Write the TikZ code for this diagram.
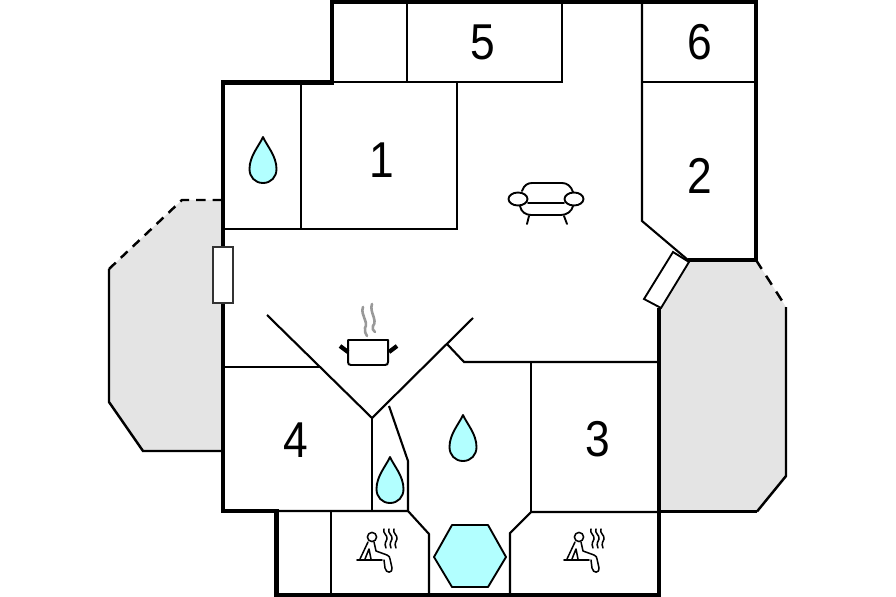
\documentclass[tikz,border=0pt]{standalone}
\usepackage{fontspec}
\setmainfont{Liberation Sans}
\newfontfamily\numberfont[FakeStretch=0.88]{Liberation Sans}
\definecolor{terrace}{HTML}{E4E4E4}
\definecolor{water}{HTML}{B2FFFF}
\definecolor{steam}{HTML}{999999}
\tikzset{
  wall/.style={line width=3.9pt, line join=miter},
  inner wall/.style={line width=1.8pt},
  terrace edge/.style={line width=2.1pt},
  icon/.style={line width=1.6pt, line cap=round, line join=round},
  thin icon/.style={line width=1.3pt, line cap=round, line join=round},
  number/.style={font=\numberfont\fontsize{43}{43}\selectfont, inner sep=0pt},
  pics/drop/.style={code={
    \draw[icon, fill=water] (0,-23) .. controls (-4,-14) and (-13.5,-4) .. (-13.5,9)
      .. controls (-13.5,17) and (-8,23) .. (0,23)
      .. controls (8,23) and (13.5,17) .. (13.5,9)
      .. controls (13.5,-4) and (4,-14) .. (0,-23) -- cycle;
  }},
  pics/bather/.style={code={
    \draw[thin icon] (0,0) circle [radius=4.6];
    \draw[thin icon] (-4,5) -- (-12,22);
    \draw[thin icon] (2,5) -- (4,14) -- (15,18) .. controls (17,19) and (18,20) .. (18,22) -- (20,31)
      .. controls (21,36) and (14,37) .. (13,31) -- (12,23);
    \draw[thin icon] (-3,12) -- (-7,22) (-3,12) -- (-1,22);
    \draw[thin icon] (-15,23) -- (10,23);
    \foreach \sx in {12,17,22} {
      \draw[thin icon] (\sx,-8) .. controls (\sx-2,-4) and (\sx+4,-2) .. (\sx+3,2)
        .. controls (\sx+2,5) and (\sx,6) .. (\sx+2,11);
    }
  }}
}

\begin{document}
\begin{tikzpicture}[x=0.03cm, y=-0.03cm]
    \useasboundingbox (0,0) rectangle (896,597);

    % terraces
    \fill[terrace] (222,200) -- (182,200) -- (109,269) -- (109,402) -- (143,451) -- (222,451) -- cycle;
    \fill[terrace] (688,260) -- (756,260) -- (786,307) -- (786,476) -- (757,512) -- (660,512) -- (660,308) -- cycle;
    \draw[terrace edge, dash pattern=on 8pt off 6pt] (222,200) -- (182,200) -- (109,269);
    \draw[terrace edge] (109,269) -- (109,402) -- (143,451) -- (222,451);
    \draw[terrace edge, dash pattern=on 9pt off 7pt] (756,260) -- (786,307);
    \draw[terrace edge] (786,307) -- (786,476) -- (757,511.5);
    \draw[line width=2.7pt] (757,511.5) -- (659,511.5);

    % outer walls
    \draw[wall] (659,308) -- (659,595) -- (276.5,595) -- (276.5,511) -- (223,511) -- (223,82.5) -- (332,82.5)
      -- (332,2) -- (756,2) -- (756,260) -- (688,260);

    % inner walls
    \draw[inner wall] (301,83) -- (301,229);
    \draw[inner wall] (223,229) -- (457,229) -- (457,83);
    \draw[inner wall] (407,3) -- (407,82);
    \draw[inner wall] (333,82) -- (562,82) -- (562,3);
    \draw[inner wall] (642,3) -- (642,221) -- (688,260);
    \draw[inner wall] (642,82) -- (756,82);
    \draw[inner wall] (267,315) -- (372,418) -- (473,318);
    \draw[inner wall] (223,367) -- (320,367);
    \draw[inner wall] (447,344) -- (464,362) -- (659,362);
    \draw[inner wall] (531,362) -- (531,512);
    \draw[inner wall] (372,418) -- (372,511);
    \draw[inner wall] (389,406) -- (408,461) -- (408,511);
    \draw[inner wall] (277,511) -- (408,511) -- (429,534) -- (429,595);
    \draw[inner wall] (510,595) -- (510,533) -- (531,512) -- (659,512);
    \draw[inner wall] (331,511) -- (331,595);

    % doors
    \draw[line width=1.6pt, draw=black!80, fill=white] (213,247) rectangle (233,303);
    \draw[line width=1.6pt, fill=white] (673,252) -- (689,262) -- (661,308) -- (644,299) -- cycle;

    % rooms
    \node at (382,160) (room1) [number] {1};
    \node at (700,176) (room2) [number] {2};
    \node at (598,439) (room3) [number] {3};
    \node at (296,440) (room4) [number] {4};
    \node at (483,42) (room5) [number] {5};
    \node at (700,42) (room6) [number] {6};

    % water
    \pic at (263,160) {drop};
    \pic at (463,438) {drop};
    \pic at (390,480) {drop};
    \draw[icon, fill=water] (434,557) -- (452,525) -- (488,525) -- (506,557) -- (488,587) -- (452,587) -- cycle;

    % sauna
    \pic at (372,537) {bather};
    \pic at (579,537) {bather};

    % pot
    \draw[line width=1.7pt, line join=round] (348,340) -- (388,340) -- (388,362)
      .. controls (388,364) and (387,365) .. (385,365) -- (351,365) .. controls (349,365) and (348,364) .. (348,362) -- cycle;
    \draw[line width=3.6pt] (340,346) -- (348,352);
    \draw[line width=3.6pt] (397,346) -- (389,352);
    \draw[line width=2.2pt, color=steam, line cap=round] (363,307) .. controls (360,315) and (369,322) .. (365,328) .. controls (364,331) and (366,334) .. (367,336);
    \draw[line width=2.2pt, color=steam, line cap=round] (372,304) .. controls (369,312) and (378,320) .. (373,326) .. controls (372,328) and (373,331) .. (375,332);

    % sofa
    \draw[icon] (522,191) .. controls (524,185) and (528,183) .. (532,183) -- (562,183) .. controls (567,183) and (571,186) .. (573,192);
    \draw[icon] (528,203) -- (564,203);
    \draw[icon] (520,206) .. controls (521,212) and (526,215) .. (531,215) -- (561,215) .. controls (567,215) and (572,211) .. (573,206);
    \draw[icon] (518,199) ellipse [x radius=9.5, y radius=6.5];
    \draw[icon] (574,199) ellipse [x radius=9.5, y radius=6.5];
    \draw[icon] (529,216) -- (527,224);
    \draw[icon] (564,216) -- (567,224);
\end{tikzpicture}
\end{document}
